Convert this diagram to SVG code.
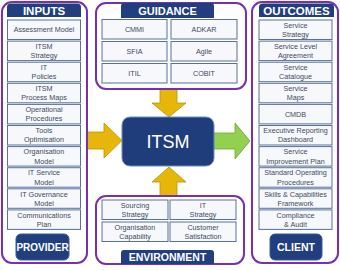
<svg xmlns="http://www.w3.org/2000/svg" width="340" height="271" viewBox="0 0 340 271">
<style>
.panel{fill:#fff;stroke:#7a2fb0;stroke-width:2}
.hdr{fill:#213f7e}
.htxt{font-family:"Liberation Sans",Arial,sans-serif;font-weight:bold;fill:#fff;text-anchor:middle}
.box{fill:#f6f8fc;stroke:#58719a;stroke-width:1}
.t{font-family:"Liberation Sans",Arial,sans-serif;font-size:7.2px;fill:#3e4a5e;text-anchor:middle}
.btn{fill:#213f7e;stroke:#3c5a96;stroke-width:1}
.yarrow{fill:#e6b70a;stroke:#b89208;stroke-width:0.8}
.garrow{fill:#93d04f;stroke:#6ea33a;stroke-width:0.8}
</style>
<rect width="340" height="271" fill="#fff"/>

<g id="connectors">
<polygon class="yarrow" points="160,89 177,89 177,103 186,103 169,117 152,103 160,103"/>
<polygon class="yarrow" points="160,196 177,196 177,182 186,182 169,167 152,182 160,182"/>
<polygon class="yarrow" points="87,132 104,132 104,123 122,140.5 104,158 104,149 87,149"/>
<polygon class="garrow" points="214,133 235,133 235,123 250,141 235,159 235,149 214,149"/>
</g>

<g id="inputs">
<rect class="panel" x="2" y="2" width="85" height="261" rx="10"/>
<path class="hdr" d="M7,17 V7 Q7,3.5 11,3.5 H77 Q81,3.5 81,7 V17 Z"/>
<text class="htxt" x="44" y="14.5" font-size="11.5">INPUTS</text>
<rect class="box" x="7.5" y="20" width="73" height="19.5"/>
<text class="t" x="44" y="32.3">Assessment Model</text>
<rect class="box" x="7.5" y="41.1" width="73" height="19.5"/>
<text class="t" x="44" y="48.8">ITSM</text><text class="t" x="44" y="58">Strategy</text>
<rect class="box" x="7.5" y="62.2" width="73" height="19.5"/>
<text class="t" x="44" y="69.9">IT</text><text class="t" x="44" y="79.1">Policies</text>
<rect class="box" x="7.5" y="83.3" width="73" height="19.5"/>
<text class="t" x="44" y="91">ITSM</text><text class="t" x="44" y="100.2">Process Maps</text>
<rect class="box" x="7.5" y="104.4" width="73" height="19.5"/>
<text class="t" x="44" y="112.1">Operational</text><text class="t" x="44" y="121.3">Procedures</text>
<rect class="box" x="7.5" y="125.5" width="73" height="19.5"/>
<text class="t" x="44" y="133.2">Tools</text><text class="t" x="44" y="142.4">Optimisation</text>
<rect class="box" x="7.5" y="146.6" width="73" height="19.5"/>
<text class="t" x="44" y="154.3">Organisation</text><text class="t" x="44" y="163.5">Model</text>
<rect class="box" x="7.5" y="167.7" width="73" height="19.5"/>
<text class="t" x="44" y="175.4">IT Service</text><text class="t" x="44" y="184.6">Model</text>
<rect class="box" x="7.5" y="188.8" width="73" height="19.5"/>
<text class="t" x="44" y="196.5">IT Governance</text><text class="t" x="44" y="205.7">Model</text>
<rect class="box" x="7.5" y="209.9" width="73" height="19.5"/>
<text class="t" x="44" y="217.6">Communications</text><text class="t" x="44" y="226.8">Plan</text>
</g>
<g id="provider">
<rect class="btn" x="16" y="234" width="53" height="26" rx="5"/>
<text class="htxt" x="42.5" y="250.5" font-size="10">PROVIDER</text>
</g>

<g id="guidance">
<rect class="panel" x="96" y="3" width="150" height="86" rx="10"/>
<path class="hdr" d="M121,18 V6 Q121,3 124,3 H211 Q214,3 214,6 V18 Z"/>
<text class="htxt" x="167.5" y="15" font-size="11">GUIDANCE</text>
<rect class="box" x="102" y="19.5" width="65" height="19.5"/><text class="t" x="134.5" y="31.8">CMMI</text>
<rect class="box" x="171" y="19.5" width="66" height="19.5"/><text class="t" x="204" y="31.8">ADKAR</text>
<rect class="box" x="102" y="41.5" width="65" height="19.5"/><text class="t" x="134.5" y="53.8">SFIA</text>
<rect class="box" x="171" y="41.5" width="66" height="19.5"/><text class="t" x="204" y="53.8">Agile</text>
<rect class="box" x="102" y="63.5" width="65" height="19.5"/><text class="t" x="134.5" y="75.8">ITIL</text>
<rect class="box" x="171" y="63.5" width="66" height="19.5"/><text class="t" x="204" y="75.8">COBIT</text>
</g>

<g id="itsm">
<rect x="122" y="117" width="92" height="49" rx="8" fill="#1f3d7b" stroke="#6d8dc6" stroke-width="1"/>
<text x="168" y="147.5" font-family="'Liberation Sans',Arial,sans-serif" font-size="18" fill="#fff" text-anchor="middle">ITSM</text>
</g>

<g id="environment">
<rect class="panel" x="96" y="196" width="148" height="68" rx="10"/>
<rect class="box" x="102" y="200" width="66" height="19.5"/>
<text class="t" x="135" y="207.7">Sourcing</text><text class="t" x="135" y="216.9">Strategy</text>
<rect class="box" x="170" y="200" width="66" height="19.5"/>
<text class="t" x="203" y="207.7">IT</text><text class="t" x="203" y="216.9">Strategy</text>
<rect class="box" x="102" y="222" width="66" height="19.5"/>
<text class="t" x="135" y="229.7">Organisation</text><text class="t" x="135" y="238.9">Capability</text>
<rect class="box" x="170" y="222" width="66" height="19.5"/>
<text class="t" x="203" y="229.7">Customer</text><text class="t" x="203" y="238.9">Satisfaction</text>
<path class="hdr" d="M121,264 V253 Q121,250 124,250 H211 Q214,250 214,253 V264 Z"/>
<text class="htxt" x="167.5" y="261.3" font-size="10.5">ENVIRONMENT</text>
</g>

<g id="outcomes">
<rect class="panel" x="252" y="2" width="86" height="261" rx="10"/>
<path class="hdr" d="M259,17 V7 Q259,3.5 263,3.5 H330 Q334,3.5 334,7 V17 Z"/>
<text class="htxt" x="296.5" y="14.5" font-size="11.5">OUTCOMES</text>
<rect class="box" x="259" y="20" width="73" height="19.5"/>
<text class="t" x="295.5" y="27.7">Service</text><text class="t" x="295.5" y="36.9">Strategy</text>
<rect class="box" x="259" y="41.1" width="73" height="19.5"/>
<text class="t" x="295.5" y="48.8">Service Level</text><text class="t" x="295.5" y="58">Agreement</text>
<rect class="box" x="259" y="62.2" width="73" height="19.5"/>
<text class="t" x="295.5" y="69.9">Service</text><text class="t" x="295.5" y="79.1">Catalogue</text>
<rect class="box" x="259" y="83.3" width="73" height="19.5"/>
<text class="t" x="295.5" y="91">Service</text><text class="t" x="295.5" y="100.2">Maps</text>
<rect class="box" x="259" y="104.4" width="73" height="19.5"/>
<text class="t" x="295.5" y="116.7">CMDB</text>
<rect class="box" x="259" y="125.5" width="73" height="19.5"/>
<text class="t" x="295.5" y="133.2">Executive Reporting</text><text class="t" x="295.5" y="142.4">Dashboard</text>
<rect class="box" x="259" y="146.6" width="73" height="19.5"/>
<text class="t" x="295.5" y="154.3">Service</text><text class="t" x="295.5" y="163.5">Improvement Plan</text>
<rect class="box" x="259" y="167.7" width="73" height="19.5"/>
<text class="t" x="295.5" y="175.4">Standard Operating</text><text class="t" x="295.5" y="184.6">Procedures</text>
<rect class="box" x="259" y="188.8" width="73" height="19.5"/>
<text class="t" x="295.5" y="196.5">Skills &amp; Capabilities</text><text class="t" x="295.5" y="205.7">Framework</text>
<rect class="box" x="259" y="209.9" width="73" height="19.5"/>
<text class="t" x="295.5" y="217.6">Compliance</text><text class="t" x="295.5" y="226.8">&amp; Audit</text>
</g>
<g id="client">
<rect class="btn" x="270" y="234" width="52" height="26" rx="5"/>
<text class="htxt" x="296" y="250.5" font-size="10.5">CLIENT</text>
</g>
</svg>
